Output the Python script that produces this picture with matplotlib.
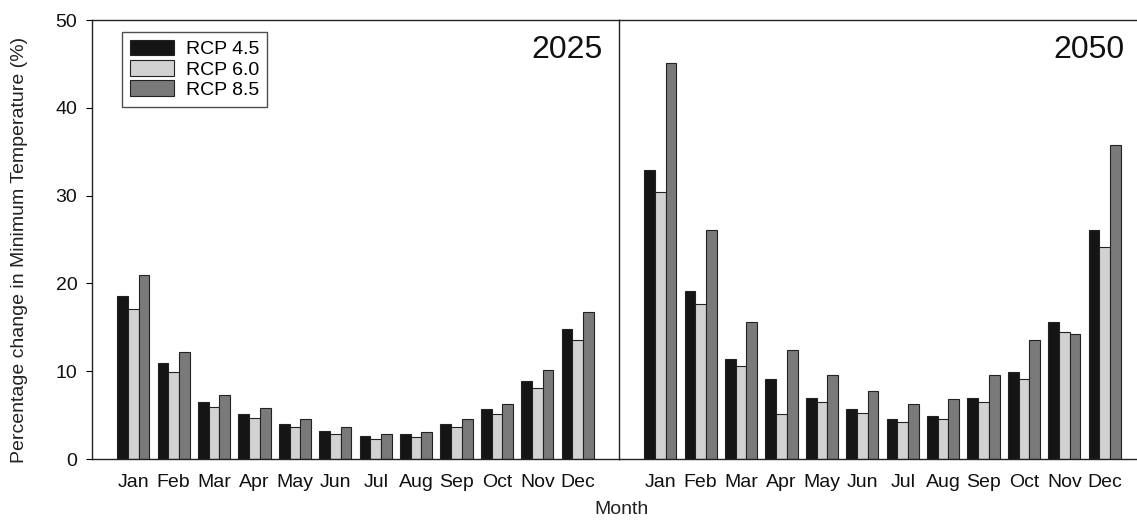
import matplotlib.pyplot as plt
import numpy as np

plt.rcParams['font.family'] = ['Liberation Sans', 'DejaVu Sans']

months = ['Jan', 'Feb', 'Mar', 'Apr', 'May', 'Jun',
          'Jul', 'Aug', 'Sep', 'Oct', 'Nov', 'Dec']
scenarios = ['RCP 4.5', 'RCP 6.0', 'RCP 8.5']
colors = ['#151515', '#d2d2d2', '#7a7a7a']

# percentage change in minimum temperature, 2025
rcp45_2025 = [18.6, 10.9, 6.5, 5.1, 4.0, 3.2, 2.6, 2.8, 4.0, 5.7, 8.9, 14.8]
rcp60_2025 = [17.1, 9.9, 5.9, 4.7, 3.6, 2.9, 2.3, 2.5, 3.6, 5.1, 8.1, 13.5]
rcp85_2025 = [21.0, 12.2, 7.3, 5.8, 4.5, 3.6, 2.9, 3.1, 4.5, 6.3, 10.1, 16.7]

# percentage change in minimum temperature, 2050
rcp45_2050 = [32.9, 19.1, 11.4, 9.1, 7.0, 5.7, 4.6, 4.9, 7.0, 9.9, 15.6, 26.1]
rcp60_2050 = [30.4, 17.7, 10.6, 5.1, 6.5, 5.2, 4.2, 4.6, 6.5, 9.1, 14.5, 24.2]
rcp85_2050 = [45.1, 26.1, 15.6, 12.4, 9.6, 7.8, 6.3, 6.8, 9.6, 13.6, 14.2, 35.8]

W, H = 1137, 520
fig = plt.figure(figsize=(W / 100, H / 100), dpi=100)
x0, x1, xr = 92, 619, 1146
yb, yt = 459, 20
ax1 = fig.add_axes([x0 / W, 1 - yb / H, (x1 - x0) / W, (yb - yt) / H])
ax2 = fig.add_axes([x1 / W, 1 - yb / H, (xr - x1) / W, (yb - yt) / H])

x = np.arange(len(months))
bw = 0.265
panels = [(ax1, [rcp45_2025, rcp60_2025, rcp85_2025], '2025', 0.968),
          (ax2, [rcp45_2050, rcp60_2050, rcp85_2050], '2050', 0.960)]

for ax, series, year, xt in panels:
    for i, vals in enumerate(series):
        ax.bar(x + (i - 1) * bw, vals, bw, color=colors[i],
               edgecolor='#222222', linewidth=0.8, label=scenarios[i])
    ax.set_xlim(-1.02, 12.02)
    ax.set_ylim(0, 50)
    ax.set_xticks(x)
    ax.set_xticklabels(months, fontsize=14, color='#111111')
    ax.tick_params(axis='x', length=0, pad=11)
    ax.text(xt, 0.965, year, transform=ax.transAxes, fontsize=23,
            ha='right', va='top', color='#111111')
    for s in ax.spines.values():
        s.set_linewidth(1.0)
        s.set_color('#222222')

ax1.set_yticks(np.arange(0, 51, 10))
ax1.tick_params(axis='y', direction='out', length=4.5, labelsize=14, pad=6,
                labelcolor='#111111')
ax1.spines['right'].set_visible(False)
ax2.set_yticks([])

fig.text(20 / W, 1 - 250 / H, 'Percentage change in Minimum Temperature (%)',
         fontsize=14, rotation=90, ha='center', va='center', color='#222222')

leg = ax1.legend(loc='upper left', bbox_to_anchor=(0.057, 0.973), fontsize=14,
                 frameon=True, fancybox=False, edgecolor='#222222',
                 handlelength=2.27, handleheight=0.85, handletextpad=0.6,
                 labelspacing=0.1, borderpad=0.4, borderaxespad=0)
leg.get_frame().set_linewidth(1.0)

fig.text(621 / W, 1 - 510 / H, 'Month', fontsize=14, ha='center', va='center',
         color='#222222')

fig.savefig('out.png', dpi=100)
